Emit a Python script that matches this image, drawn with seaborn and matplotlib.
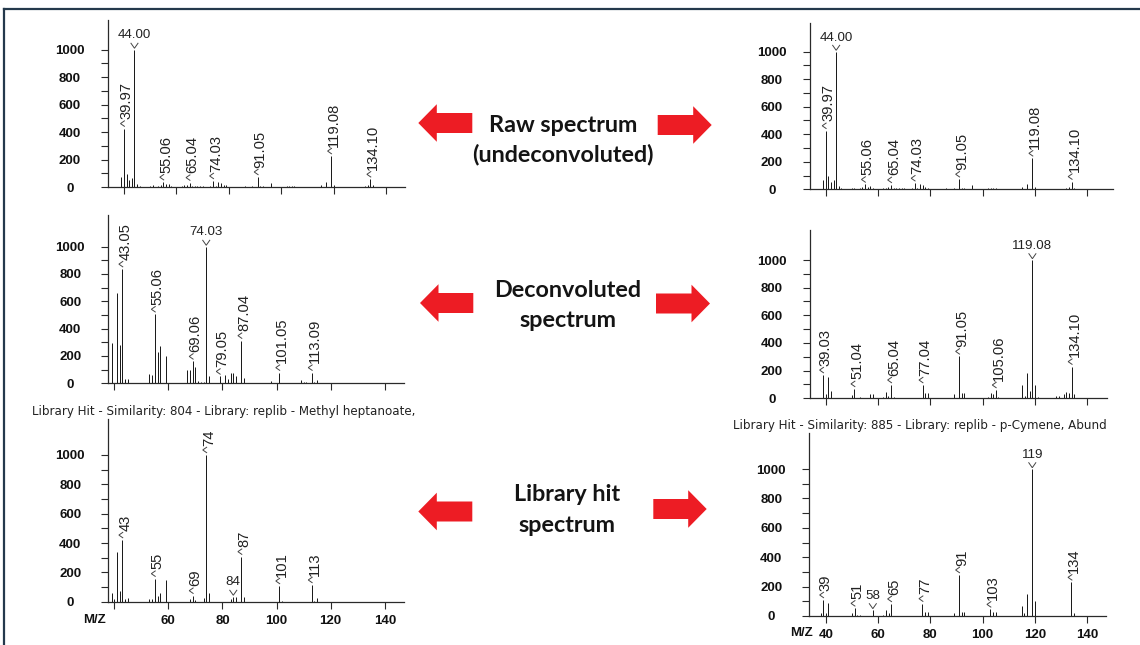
import numpy as np
import pandas as pd
import matplotlib
matplotlib.use("Agg")
import matplotlib.pyplot as plt
import seaborn as sns
from matplotlib.patches import Polygon
from matplotlib.lines import Line2D
from matplotlib.transforms import ScaledTranslation

# ---------------- data ----------------
raw_mz = [39, 40, 41, 42, 43, 44, 45, 46, 50, 51, 53, 54, 55, 56, 57, 58, 62, 63, 64, 65,
          66, 67, 68, 69, 70, 73, 74, 75, 76, 77, 78, 79, 86, 89, 91, 92, 93, 96, 102, 103,
          104, 105, 115, 117, 119, 120, 132, 133, 134, 135]
raw_int = [70, 425, 95, 50, 65, 1000, 24, 8, 10, 12, 8, 15, 35, 20, 25, 10, 8, 12, 15, 32,
           10, 8, 8, 10, 6, 8, 44, 10, 36, 30, 15, 12, 8, 8, 73, 10, 8, 30, 6, 10,
           6, 8, 15, 40, 225, 15, 8, 17, 56, 12]
raw_lab_mz = [40, 44, 55, 65, 74, 91, 119, 134]
raw_lab_txt = ["39.97", "44.00", "55.06", "65.04", "74.03", "91.05", "119.08", "134.10"]
raw_lab_rot = [True, False, True, True, True, True, True, True]

decl_mz = [39, 41, 42, 43, 44, 45, 53, 54, 55, 56, 57, 59, 67, 68, 69, 70, 71, 72, 73, 74,
           75, 79, 81, 82, 83, 84, 85, 87, 88, 98, 101, 109, 110, 111, 113, 114, 115]
decl_int = [295, 660, 280, 835, 30, 30, 70, 60, 505, 230, 270, 198, 95, 98, 160, 120, 15, 12, 12, 1000,
            56, 50, 63, 30, 73, 72, 54, 312, 37, 17, 78, 24, 10, 10, 78, 10, 22]
decl_lab_mz = [43, 55, 69, 74, 79, 87, 101, 113]
decl_lab_txt = ["43.05", "55.06", "69.06", "74.03", "79.05", "87.04", "101.05", "113.09"]
decl_lab_rot = [True, True, True, False, True, True, True, True]

libl_mz = [39, 40, 41, 42, 43, 44, 45, 53, 54, 55, 56, 57, 59, 68, 69, 70, 73, 74, 75, 83,
           84, 85, 87, 88, 101, 102, 113, 114, 115]
libl_int = [61, 18, 340, 73, 420, 16, 23, 18, 16, 157, 41, 57, 148, 16, 41, 12, 23, 1000, 61, 18,
            35, 30, 307, 34, 107, 8, 114, 8, 22]
libl_lab_mz = [43, 55, 69, 74, 84, 87, 101, 113]
libl_lab_txt = ["43", "55", "69", "74", "84", "87", "101", "113"]
libl_lab_rot = [True, True, True, True, False, True, True, True]

decr_mz = [39, 40, 41, 42, 50, 51, 53, 57, 58, 62, 63, 64, 65, 66, 77, 78, 79, 89, 91, 92,
           93, 102, 103, 104, 105, 106, 115, 116, 117, 118, 119, 120, 121, 128, 129, 131, 132, 133, 134, 135]
decr_int = [168, 30, 157, 55, 24, 68, 12, 28, 30, 8, 48, 15, 96, 8, 96, 40, 40, 29, 303, 35,
            35, 10, 38, 30, 60, 10, 96, 20, 186, 50, 1000, 98, 8, 15, 15, 30, 48, 36, 229, 30]
decr_lab_mz = [39, 51, 65, 77, 91, 105, 119, 134]
decr_lab_txt = ["39.03", "51.04", "65.04", "77.04", "91.05", "105.06", "119.08", "134.10"]
decr_lab_rot = [True, True, True, True, True, True, False, True]

libr_mz = [38, 39, 40, 41, 50, 51, 52, 53, 58, 62, 63, 64, 65, 77, 78, 79, 89, 91, 92, 93,
           103, 104, 105, 115, 116, 117, 119, 120, 134, 135]
libr_int = [18, 109, 18, 91, 23, 52, 10, 8, 41, 8, 41, 18, 82, 84, 29, 29, 23, 279, 29, 29,
            45, 25, 29, 68, 18, 147, 1000, 100, 229, 20]
libr_lab_mz = [39, 51, 58, 65, 77, 91, 103, 119, 134]
libr_lab_txt = ["39", "51", "58", "65", "77", "91", "103", "119", "134"]
libr_lab_rot = [True, True, False, True, True, True, True, False, True]

x_ticks = [40, 60, 80, 100, 120, 140]
y_ticks = list(range(0, 1001, 100))

title_left = "Library Hit - Similarity: 804 - Library: replib - Methyl heptanoate,"
title_right = "Library Hit - Similarity: 885 - Library: replib - p-Cymene, Abund"
row_texts = [["Raw spectrum", "(undeconvoluted)"], ["Deconvoluted", "spectrum"], ["Library hit", "spectrum"]]

# ---------------- style ----------------
W, H = 1140, 645
plt.rcParams['font.family'] = ['Liberation Sans', 'DejaVu Sans']
INK = '#1c1c1c'
LBL = '#222222'
TCK = '#111111'
CHV = '#444444'

fig = plt.figure(figsize=(W / 100, H / 100), dpi=100)
fig.patch.set_facecolor('white')

# chevron shapes, in pixel offsets from the top of the peak (y up)
CHEV_DOWN = [(-3.5, 6.3), (0.0, 1.3), (3.5, 6.3)]
CHEV_LEFT = [(0.4, 2.3), (-3.5, 5.0), (0.4, 7.7)]


def draw_chevron(ax, m, y, shape):
    ax.add_line(Line2D([p[0] for p in shape], [p[1] for p in shape],
                       transform=ScaledTranslation(m, y, ax.transData),
                       color=CHV, lw=0.7, clip_on=False, solid_joinstyle='miter'))


def add_panel(l, r, t, b, xlim, ytop, mz, inten, lab_mz, lab_txt, lab_rot,
              show_xlabels=False, hide_first=False):
    ax = fig.add_axes([l / W, 1 - b / H, (r - l) / W, (b - t) / H])
    df = pd.DataFrame({'mz': mz, 'intensity': inten})
    sns.barplot(data=df, x='mz', y='intensity', native_scale=True, width=0.0005,
                color=INK, edgecolor=INK, linewidth=0.72, errorbar=None,
                saturation=1, ax=ax)
    ax.set_xlim(*xlim)
    ax.set_ylim(0, ytop)
    ax.set_xlabel('')
    ax.set_ylabel('')
    for s in ['top', 'right']:
        ax.spines[s].set_visible(False)
    for s in ['left', 'bottom']:
        ax.spines[s].set_color('#2a2a2a')
        ax.spines[s].set_linewidth(0.9)
    ax.set_facecolor('none')
    ax.set_yticks(y_ticks)
    ax.set_yticklabels([str(v) if v % 200 == 0 else '' for v in y_ticks])
    ax.set_xticks(x_ticks)
    if show_xlabels:
        labs = [str(v) for v in x_ticks]
        if hide_first:
            labs[0] = ''
        ax.set_xticklabels(labs)
    else:
        ax.set_xticklabels([])
    ax.tick_params(axis='y', length=4.8, width=0.8, pad=22.6, labelsize=9.5,
                   color='#2a2a2a', labelcolor=TCK)
    for tl in ax.get_yticklabels():
        tl.set_ha('center')
        tl.set_fontweight('bold')
    ax.tick_params(axis='x', length=5.3, width=0.8, pad=4.0, labelsize=9.5,
                   color='#2a2a2a', labelcolor=TCK)
    for tl in ax.get_xticklabels():
        tl.set_fontweight('bold')
    lookup = dict(zip(mz, inten))
    for m, txt, rot in zip(lab_mz, lab_txt, lab_rot):
        y = lookup[m]
        if rot:
            draw_chevron(ax, m, y, CHEV_LEFT)
            ax.annotate(txt, xy=(m, y), xytext=(2.0, 6.8), textcoords='offset points',
                        rotation=90, ha='center', va='bottom', fontsize=10.6,
                        color=LBL, annotation_clip=False)
        else:
            draw_chevron(ax, m, y, CHEV_DOWN)
            ax.annotate(txt, xy=(m, y), xytext=(0, 8.0), textcoords='offset points',
                        ha='center', va='baseline', fontsize=9.6,
                        color=LBL, annotation_clip=False)
    return ax


# left column
add_panel(108, 405, 20, 187, (33.9, 147.2), 1215, raw_mz, raw_int,
          raw_lab_mz, raw_lab_txt, raw_lab_rot)
add_panel(108.3, 404, 215, 383.3, (37.8, 147.1), 1231, decl_mz, decl_int,
          decl_lab_mz, decl_lab_txt, decl_lab_rot)
add_panel(108.3, 404, 419.3, 601.7, (37.8, 147.1), 1243, libl_mz, libl_int,
          libl_lab_mz, libl_lab_txt, libl_lab_rot, show_xlabels=True, hide_first=True)
# right column
add_panel(810, 1113, 22.7, 189.3, (34.0, 149.8), 1210, raw_mz, raw_int,
          raw_lab_mz, raw_lab_txt, raw_lab_rot)
add_panel(810, 1106.7, 230, 398.3, (34.0, 147.4), 1217, decr_mz, decr_int,
          decr_lab_mz, decr_lab_txt, decr_lab_rot)
add_panel(809.3, 1106, 433.3, 616, (33.7, 147.2), 1243, libr_mz, libr_int,
          libr_lab_mz, libr_lab_txt, libr_lab_rot, show_xlabels=True)


def fxy(px, py):
    return (px / W, 1 - py / H)


# x-axis name
fig.text(*fxy(95, 620), "M/Z", ha='center', va='center', fontsize=9.5, color=TCK,
         fontweight='bold')
fig.text(*fxy(801.7, 633), "M/Z", ha='center', va='center', fontsize=9.5, color=TCK,
         fontweight='bold')

# library hit titles
fig.text(*fxy(32, 411), title_left, ha='left', va='center', fontsize=8.6, color=LBL,
         family=['DejaVu Sans'])
fig.text(*fxy(733, 425), title_right, ha='left', va='center', fontsize=8.6, color=LBL,
         family=['DejaVu Sans'])

# frame lines
fig.add_artist(Line2D([4 / W, 1.0], [1 - 9 / H, 1 - 9 / H], color='#24394c', lw=1.6,
                      transform=fig.transFigure))
fig.add_artist(Line2D([4 / W, 4 / W], [1 - 9 / H, 0.0], color='#24394c', lw=1.6,
                      transform=fig.transFigure))

# arrows
RED = '#ED1C24'


def arrow(x_tip, x_tail, yc, direction):
    hl, hh, sh = 18.5, 18.8, 10.0
    s = 1 if direction == 'left' else -1
    pts = [(x_tip, yc), (x_tip + s * hl, yc - hh), (x_tip + s * hl, yc - sh),
           (x_tail, yc - sh), (x_tail, yc + sh), (x_tip + s * hl, yc + sh),
           (x_tip + s * hl, yc + hh)]
    fig.add_artist(Polygon([fxy(px, py) for px, py in pts], closed=True,
                           transform=fig.transFigure, facecolor=RED, edgecolor='none'))


arrow(418.3, 472.3, 123, 'left')
arrow(711.7, 657.7, 125, 'right')
arrow(420, 473.3, 303, 'left')
arrow(710, 656, 303.5, 'right')
arrow(418.3, 472.3, 511.5, 'left')
arrow(706.7, 653.3, 509, 'right')

# central descriptions
centers = [(563, [132.3, 161.7]), (567.5, [296.7, 327.3]), (566.7, [500.7, 532])]
for (cx, ys), lines in zip(centers, row_texts):
    for yb, txt in zip(ys, lines):
        fig.text(*fxy(cx, yb), txt, ha='center', va='baseline', fontsize=16.8,
                 fontweight='bold', family=['Lato', 'DejaVu Sans'], color='#141414')

fig.savefig('out.png', dpi=100, facecolor='white')
